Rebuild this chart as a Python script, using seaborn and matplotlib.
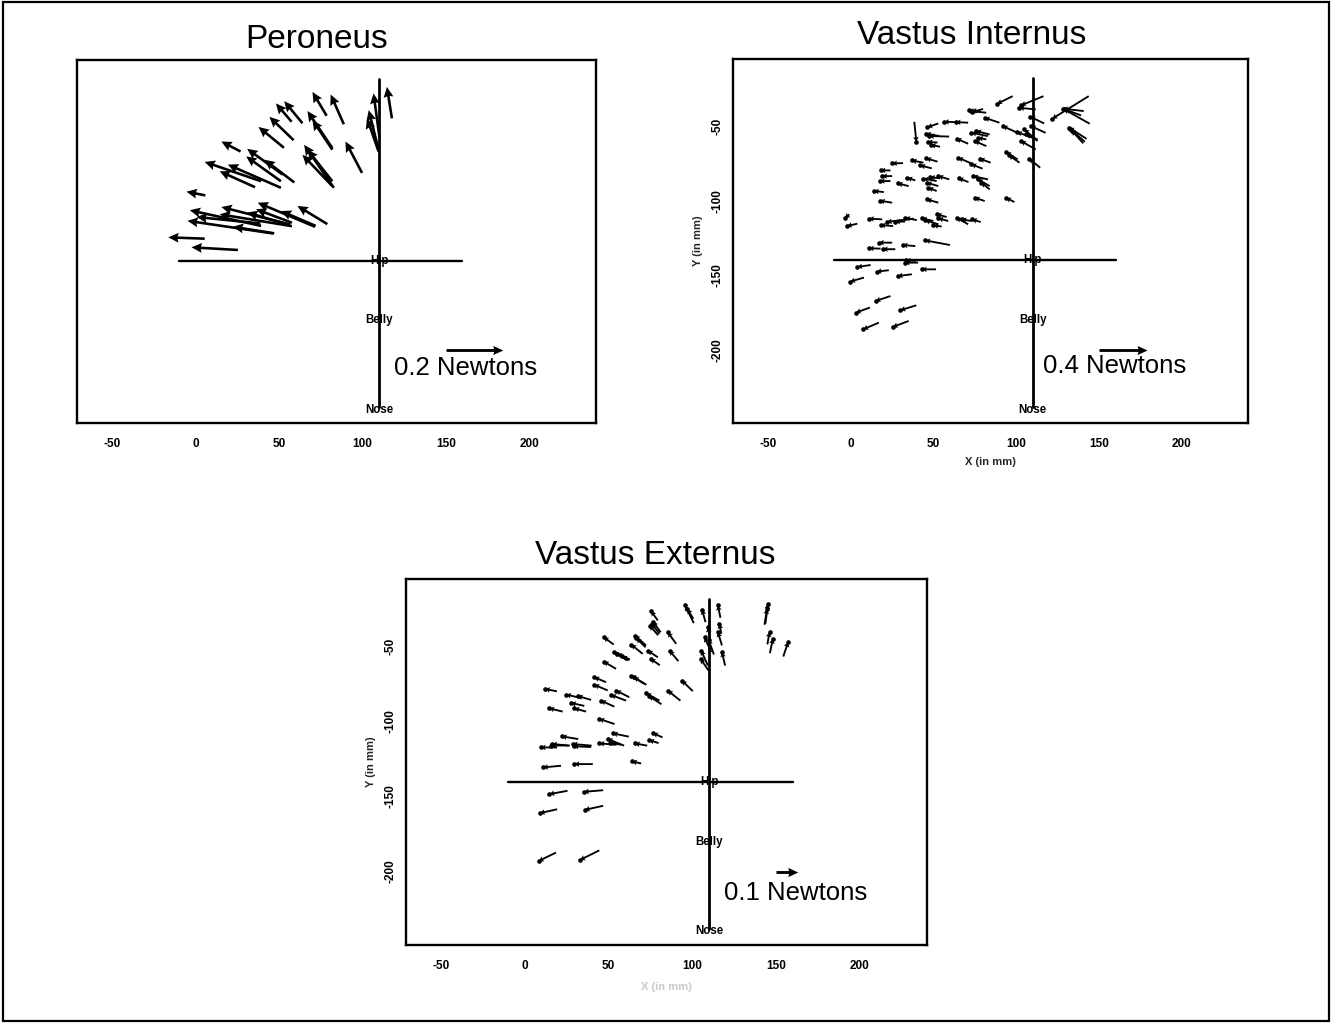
import matplotlib
matplotlib.use("Agg")
import matplotlib.pyplot as plt
import matplotlib.patches as mpatches
import numpy as np
import seaborn as sns

sns.set_theme(style="white")
plt.rcParams['font.family'] = ['Liberation Sans', 'DejaVu Sans']

# ---------------- data (mm); head = arrow tip, tail = arrow start ----------------
pero_hx = [70.1, 81.0, 48.2, 53.2, 67.1, 70.1, 65.1, 64.1, 67.1, 89.9, 103.8, 102.8, 106.7, 114.7, 44.3, 37.8, 15.5, 31.0, 30.4, 5.5, 19.4, 14.5, 41.3, -5.4, -3.4, -4.8, 0.6, 15.5, 14.5, 22.4, 37.3, 36.3, 31.0, 51.2, 61.1, -16.3, -2.4]
pero_hy = [-26.5, -28.2, -34.2, -32.7, -39.3, -45.3, -62.0, -68.7, -65.3, -59.8, -38.7, -44.2, -27.5, -23.1, -43.2, -50.0, -59.8, -64.7, -69.8, -73.5, -75.3, -79.8, -72.0, -93.5, -106.0, -113.1, -110.5, -103.8, -108.7, -117.1, -100.9, -105.3, -107.5, -106.5, -103.1, -124.2, -130.9]
pero_tx = [78.6, 88.9, 57.6, 64.1, 82.0, 82.0, 82.9, 82.0, 82.0, 99.8, 109.7, 109.7, 110.3, 117.7, 58.8, 53.0, 27.0, 52.2, 51.2, 39.3, 51.2, 35.7, 59.2, 5.9, 39.3, 46.5, 38.9, 56.7, 57.8, 47.2, 71.6, 57.8, 56.7, 72.0, 79.0, 5.5, 25.4]
pero_ty = [-42.5, -48.2, -46.5, -47.5, -64.2, -65.3, -90.9, -89.8, -86.5, -80.9, -65.3, -66.5, -57.5, -44.2, -58.9, -64.0, -66.5, -82.0, -86.5, -86.5, -90.9, -90.5, -87.3, -96.0, -116.5, -121.6, -114.9, -115.6, -116.7, -121.5, -117.1, -114.4, -116.0, -116.5, -115.3, -125.1, -132.7]

vi_hx = [88.5, 102.9, 101.9, 72.6, 73.5, 71.5, 81.0, 108.5, 121.8, 128.4, 128.8, 129.5, 132.0, 132.8, 133.6, 56.4, 63.5, 46.4, 39.7, 91.9, 108.9, 100.5, 104.9, 105.9, 102.9, 45.5, 47.5, 46.5, 48.5, 64.0, 73.0, 75.9, 77.0, 75.0, 93.9, 95.5, 107.9, 25.1, 37.0, 42.1, 45.7, 65.0, 73.0, 78.0, 18.1, 19.1, 17.7, 34.3, 28.5, 44.0, 48.0, 53.0, 46.0, 47.0, 65.2, 74.0, 77.0, 79.0, 14.1, 17.7, 46.0, 75.0, 93.9, -3.4, -2.2, 11.1, 18.1, 22.0, 27.0, 33.0, 43.0, 45.1, 50.0, 52.0, 53.0, 64.0, 67.0, 73.3, 17.1, 11.1, 19.5, 31.5, 45.1, 32.7, 33.5, 4.1, 15.7, 43.0, 28.5, -0.2, 15.1, 3.2, 30.1, 7.7, 25.5]
vi_hy = [-35.0, -36.1, -37.7, -39.9, -40.5, -39.5, -44.4, -43.7, -45.0, -38.3, -38.6, -38.8, -51.0, -52.0, -53.0, -47.1, -47.3, -50.7, -60.5, -50.0, -50.0, -54.0, -52.2, -55.6, -60.0, -55.0, -56.6, -60.6, -62.6, -58.4, -54.4, -53.3, -57.8, -60.0, -67.4, -69.5, -71.8, -75.0, -73.0, -76.3, -71.6, -71.2, -75.6, -71.8, -79.7, -83.5, -86.8, -84.6, -88.4, -85.2, -84.2, -83.5, -87.9, -91.3, -85.0, -83.5, -85.7, -87.9, -93.5, -100.0, -99.1, -98.0, -98.0, -111.8, -117.0, -112.0, -116.3, -114.2, -114.0, -111.5, -111.8, -113.2, -116.5, -109.1, -111.8, -111.4, -112.5, -112.5, -128.1, -131.9, -132.5, -129.7, -126.6, -141.5, -140.0, -144.4, -147.5, -146.0, -150.5, -154.2, -167.2, -175.0, -173.4, -186.2, -184.6]
vi_tx = [97.9, 116.5, 111.8, 81.9, 80.0, 78.5, 89.9, 116.9, 143.8, 140.8, 144.4, 139.2, 142.5, 141.5, 140.5, 64.0, 71.0, 53.0, 38.5, 100.9, 117.8, 109.9, 112.9, 112.9, 111.8, 53.5, 59.5, 52.5, 54.0, 71.0, 82.9, 84.0, 82.0, 82.0, 100.9, 102.0, 114.5, 31.7, 44.0, 49.0, 52.5, 74.4, 79.7, 84.6, 24.1, 25.1, 24.1, 39.1, 35.1, 52.0, 54.0, 59.6, 53.0, 52.0, 71.2, 83.0, 84.0, 84.0, 20.1, 25.1, 53.0, 81.0, 98.9, -0.8, 4.1, 19.1, 25.7, 38.0, 33.0, 40.0, 50.0, 53.0, 55.0, 58.0, 59.0, 71.0, 73.0, 78.6, 25.1, 18.1, 27.0, 39.1, 60.0, 40.8, 39.5, 12.1, 23.1, 51.6, 37.0, 8.1, 24.1, 11.7, 39.7, 17.1, 35.1]
vi_ty = [-29.9, -29.9, -38.8, -41.0, -38.5, -40.2, -47.7, -48.2, -29.9, -39.9, -48.4, -42.8, -58.5, -60.5, -61.5, -47.3, -47.7, -48.2, -47.1, -54.5, -54.5, -57.8, -60.0, -58.9, -65.6, -56.6, -57.0, -61.0, -63.8, -61.8, -56.7, -55.6, -58.9, -63.4, -72.3, -74.5, -77.9, -74.8, -74.5, -78.3, -73.8, -75.7, -78.5, -74.5, -79.7, -83.5, -86.8, -86.4, -90.2, -86.8, -85.0, -85.7, -90.2, -93.5, -87.5, -85.7, -90.2, -92.4, -94.2, -101.3, -101.3, -100.2, -100.9, -109.1, -115.4, -112.5, -117.0, -112.0, -114.0, -113.0, -113.6, -115.8, -117.3, -110.9, -113.6, -115.8, -113.6, -114.3, -128.1, -132.1, -132.5, -130.4, -129.7, -141.5, -140.3, -143.1, -146.6, -146.0, -149.3, -151.5, -163.9, -171.6, -170.1, -181.7, -180.6]

ve_hx = [75.3, 75.7, 76.5, 74.5, 47.0, 53.0, 55.0, 58.0, 65.7, 66.5, 63.4, 73.3, 75.0, 47.0, 63.4, 65.0, 41.4, 41.4, 54.4, 51.4, 72.3, 74.0, 45.4, 12.0, 24.5, 31.5, 27.5, 29.5, 14.5, 95.6, 97.0, 105.8, 115.2, 145.1, 144.5, 146.0, 148.0, 157.1, 85.3, 86.3, 93.7, 85.3, 109.2, 107.2, 105.2, 104.8, 109.6, 116.1, 115.2, 117.6, 44.4, 52.4, 22.0, 9.4, 16.2, 15.5, 28.4, 29.0, 44.4, 49.4, 50.5, 65.6, 74.1, 76.4, 10.8, 29.5, 63.9, 14.6, 35.2, 8.9, 35.7, 8.2, 32.9]
ve_hy = [-26.4, -34.8, -33.5, -36.0, -43.8, -53.8, -54.8, -56.5, -42.7, -44.5, -48.7, -52.7, -58.2, -60.0, -69.4, -70.5, -70.5, -75.5, -79.4, -82.3, -81.2, -83.0, -86.1, -78.3, -82.1, -83.0, -87.6, -91.2, -91.2, -22.6, -25.0, -25.5, -22.6, -21.5, -25.0, -40.4, -44.9, -47.1, -40.6, -52.7, -72.7, -79.4, -37.1, -43.8, -52.7, -58.2, -45.5, -34.9, -40.4, -53.8, -98.3, -107.9, -109.9, -117.3, -115.0, -116.0, -115.0, -116.5, -114.6, -111.7, -114.0, -114.6, -112.4, -107.7, -130.6, -128.4, -126.6, -148.4, -146.9, -161.1, -158.9, -193.0, -192.3]
ve_tx = [79.3, 80.3, 81.0, 79.5, 53.0, 61.4, 62.5, 62.5, 72.3, 72.0, 70.3, 79.3, 80.5, 54.4, 71.3, 72.5, 48.4, 49.4, 62.3, 60.4, 80.3, 81.5, 53.4, 19.1, 33.5, 39.5, 35.4, 36.5, 22.5, 100.8, 100.5, 107.8, 116.7, 143.5, 143.0, 144.7, 146.2, 154.2, 90.3, 91.6, 100.2, 92.8, 110.7, 111.2, 109.2, 109.6, 112.8, 117.2, 117.6, 119.5, 53.5, 62.0, 31.8, 19.2, 26.8, 26.0, 39.8, 39.5, 54.7, 59.2, 57.5, 73.0, 79.8, 82.1, 21.5, 40.5, 69.4, 25.4, 46.7, 19.2, 46.7, 18.5, 44.4]
ve_ty = [-32.6, -41.5, -40.5, -42.5, -48.7, -59.4, -58.5, -59.0, -49.3, -50.5, -54.9, -57.2, -62.5, -64.9, -74.9, -75.5, -73.8, -79.3, -83.8, -86.1, -86.1, -88.5, -90.1, -79.9, -84.3, -85.6, -89.6, -93.4, -93.4, -34.4, -31.5, -33.8, -30.9, -34.9, -35.5, -48.6, -54.5, -56.7, -48.2, -59.8, -79.8, -86.1, -46.0, -53.8, -62.7, -66.0, -55.3, -41.5, -49.3, -62.7, -101.7, -110.1, -111.7, -117.3, -116.1, -116.0, -116.1, -117.0, -115.5, -116.1, -115.5, -116.1, -114.4, -110.6, -129.5, -128.4, -128.0, -146.2, -145.8, -158.5, -156.2, -187.4, -185.9]

titles = ["Peroneus", "Vastus Internus", "Vastus Externus"]
scale_labels = ["0.2 Newtons", "0.4 Newtons", "0.1 Newtons"]
scale_x0 = [150, 150, 150]
scale_x1 = [184, 179, 163]
scale_y = [-200, -200, -200]
scale_lab_x = [119, 116, 119]
scale_lab_y = [-212, -211, -214]

landmarks = ["Hip", "Belly", "Nose"]
landmark_x = [110, 110, 110]
landmark_y = [-140, -180, -240]
hline_x = [-10, 160]
hline_y = [-140, -140]
vline_x = [110, 110]
vline_y = [-18, -238]

x_ticks = [-50, 0, 50, 100, 150, 200]
y_ticks = [-50, -100, -150, -200]

# ---------------- figure ----------------
W, H = 1332, 1023
fig = plt.figure(figsize=(W / 100, H / 100), dpi=100)
fig.patch.set_facecolor("white")

def px_axes(l, t, r, b):
    return fig.add_axes([l / W, 1 - b / H, (r - l) / W, (b - t) / H])

axes = [px_axes(77, 60, 596, 423), px_axes(733, 59, 1248, 423), px_axes(406, 579, 927, 945)]
data = [(pero_tx, pero_ty, pero_hx, pero_hy),
        (vi_tx, vi_ty, vi_hx, vi_hy),
        (ve_tx, ve_ty, ve_hx, ve_hy)]
title_pos = [(317, 40), (972, 35), (655, 555)]

for i, ax in enumerate(axes):
    ax.set_facecolor("white")
    ax.set_xlim(-71, 240)
    ax.set_ylim(-249, -5)
    for s in ax.spines.values():
        s.set_visible(True)
        s.set_color("black")
        s.set_linewidth(1.7)

    tx, ty, hx, hy = [np.array(a) for a in data[i]]
    if i == 0:
        ax.quiver(tx, ty, hx - tx, hy - ty, angles='xy', scale_units='xy', scale=1,
                  width=0.0050, headwidth=3.8, headlength=4.0, headaxislength=3.6,
                  color='black', zorder=3)
    else:
        ax.quiver(tx, ty, hx - tx, hy - ty, angles='xy', scale_units='xy', scale=1,
                  width=0.0036, headwidth=3.0, headlength=2.6, headaxislength=2.3,
                  color='black', zorder=3)
        sns.scatterplot(x=hx, y=hy, ax=ax, s=11, color='black', linewidth=0,
                        zorder=4, legend=False)

    # crosshair
    sns.lineplot(x=hline_x, y=hline_y, ax=ax, color='black', lw=1.7, sort=False, estimator=None)
    ax.plot(vline_x, vline_y, color='black', lw=2.0, zorder=2)
    for name, lx, ly in zip(landmarks, landmark_x, landmark_y):
        ax.text(lx, ly, name, ha='center', va='center', fontsize=8.3,
                fontweight='bold', color='black', zorder=5)

    # scale arrow
    ax.quiver([scale_x0[i]], [scale_y[i]], [scale_x1[i] - scale_x0[i]], [0],
              angles='xy', scale_units='xy', scale=1, width=0.0055,
              headwidth=3.2, headlength=3.5, headaxislength=3.2, color='black', zorder=3)
    ax.text(scale_lab_x[i], scale_lab_y[i], scale_labels[i], ha='left', va='center',
            fontsize=18.5, color='black')

    ax.set_xticks(x_ticks)
    ax.set_xticklabels([str(v) for v in x_ticks], fontsize=8.5, fontweight='bold')
    ax.tick_params(axis='x', length=0, pad=11, colors='black')
    if i == 0:
        ax.set_yticks([])
        ax.set_ylabel("")
        ax.set_xlabel("")
    else:
        ax.set_yticks(y_ticks)
        ax.set_yticklabels([str(v) for v in y_ticks], fontsize=8.5, fontweight='bold',
                           rotation=90, va='center')
        ax.tick_params(axis='y', length=0, pad=7, colors='black')
        ax.set_ylabel("Y (in mm)", fontsize=8, fontweight='bold', labelpad=6)
    if i == 1:
        ax.set_xlabel("X (in mm)", fontsize=8, fontweight='bold', labelpad=5)
    elif i == 2:
        ax.set_xlabel("X (in mm)", fontsize=8, fontweight='bold', labelpad=7, color='#c8c8c8')
    ax.grid(False)

    tx_, ty_ = title_pos[i]
    fig.text(tx_ / W, 1 - ty_ / H, titles[i], ha='center', va='center', fontsize=24, color='black')

# outer frame
fig.patches.append(mpatches.Rectangle((0.002, 0.002), 0.996, 0.996, transform=fig.transFigure,
                                      fill=False, edgecolor='black', lw=1.6))

fig.savefig("out.png", dpi=100, facecolor="white")
